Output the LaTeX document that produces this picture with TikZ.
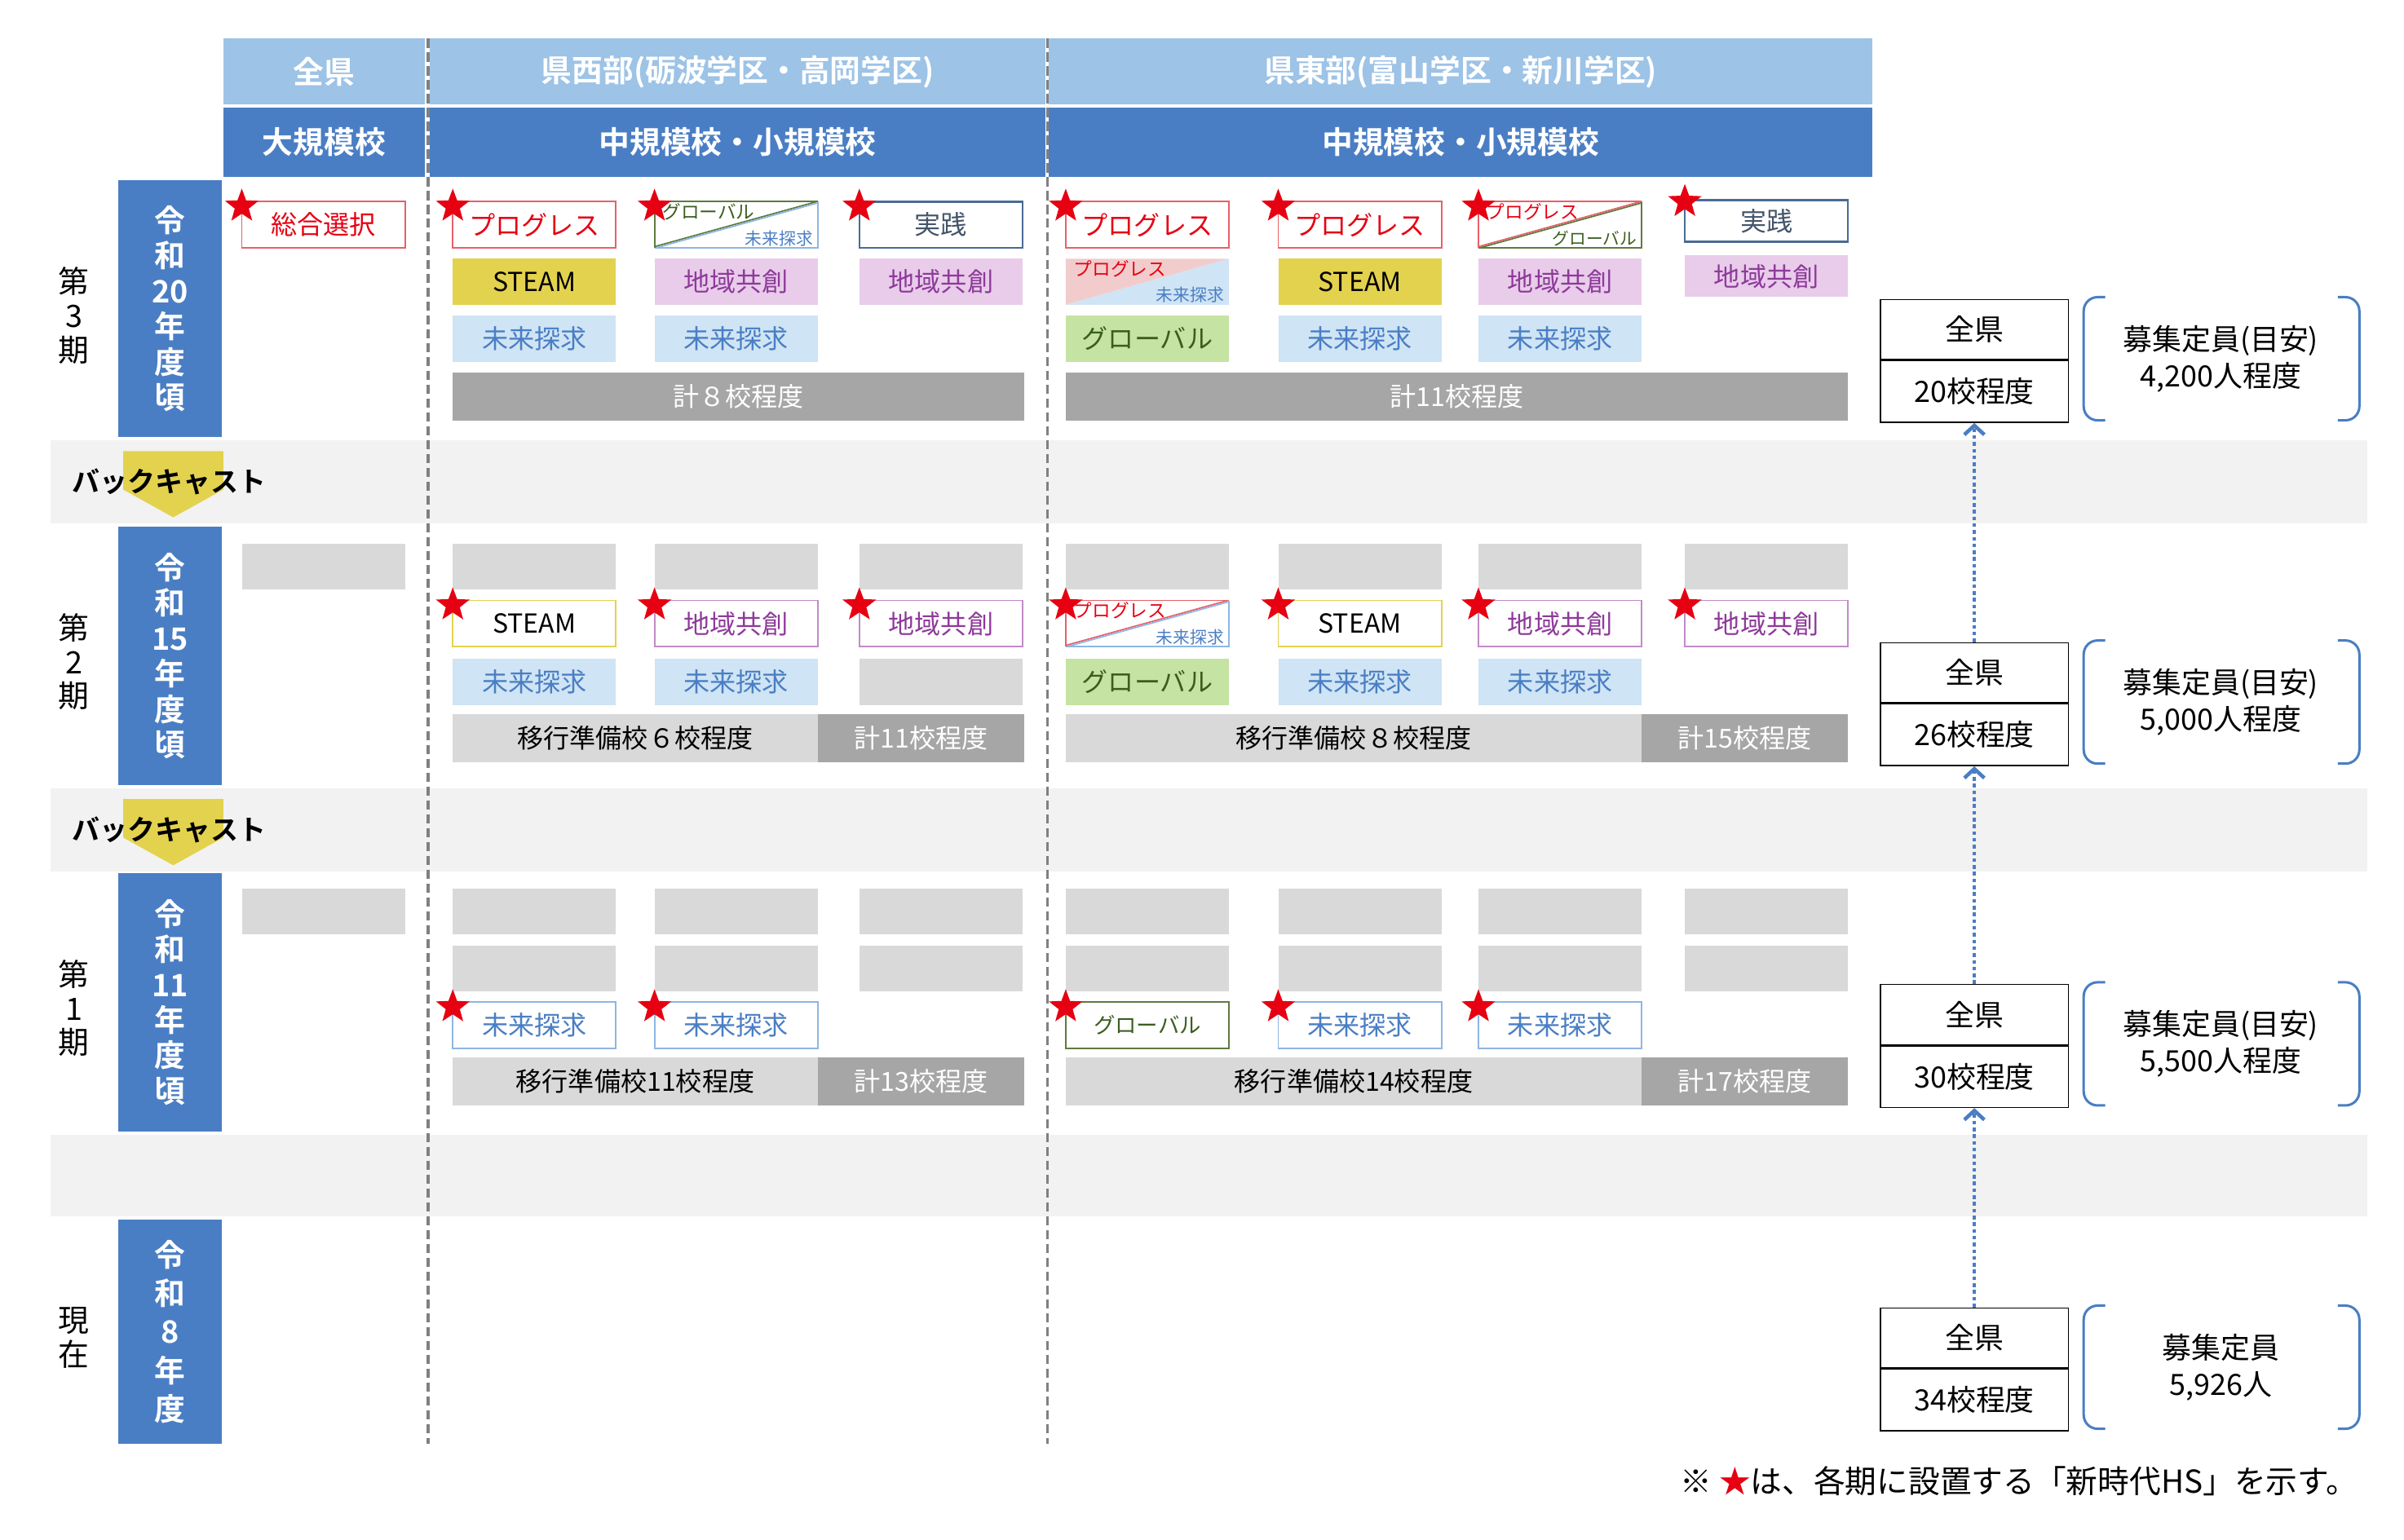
\documentclass[tikz,border=0pt]{standalone}
\usepackage{fontspec}
\setmainfont{Noto Sans CJK JP}[BoldFont={Noto Sans CJK JP Bold}]
\usetikzlibrary{shapes.geometric,arrows.meta}
\definecolor{hdrA}{HTML}{9DC3E6}
\definecolor{hdrB}{HTML}{4A7EC4}
\definecolor{redline}{HTML}{E8606A}
\definecolor{redtext}{HTML}{E60012}
\definecolor{steam}{HTML}{E3D24E}
\definecolor{pinkf}{HTML}{E8CCEA}
\definecolor{purp}{HTML}{8E3A9A}
\definecolor{purpline}{HTML}{C28AC8}
\definecolor{lblue}{HTML}{CFE4F4}
\definecolor{bluetext}{HTML}{4A7EC4}
\definecolor{blueline}{HTML}{8DB6E3}
\definecolor{greenf}{HTML}{C5E3A2}
\definecolor{greentext}{HTML}{3B5E1E}
\definecolor{greenline}{HTML}{5E7A3E}
\definecolor{jisline}{HTML}{4A6B94}
\definecolor{jistext}{HTML}{44546A}
\definecolor{lgray}{HTML}{D9D9D9}
\definecolor{dgray}{HTML}{A6A6A6}
\definecolor{bandc}{HTML}{F2F2F2}
\definecolor{pinkA}{HTML}{F2CCCC}
\newcommand\fs{\fontsize{17}{20}\selectfont}
\tikzset{
 base/.style={minimum width=106pt,minimum height=30pt,inner sep=0pt,font=\fs},
 ored/.style={base,draw=redline,fill=white,text=redtext,line width=1pt},
 fsteam/.style={base,fill=steam,text=black},
 osteam/.style={base,draw=steam,fill=white,text=black,line width=1pt},
 fpink/.style={base,fill=pinkf,text=purp},
 opink/.style={base,draw=purpline,fill=white,text=purp,line width=1pt},
 fblue/.style={base,fill=lblue,text=bluetext},
 oblue/.style={base,draw=blueline,fill=white,text=bluetext,line width=1pt},
 fgreen/.style={base,fill=greenf,text=greentext},
 ogreen/.style={base,draw=greenline,fill=white,text=greentext,line width=1pt},
 ojis/.style={base,draw=jisline,fill=white,text=jistext,line width=1.2pt},
 gbox/.style={base,fill=lgray},
 star5/.style={star,star points=5,star point ratio=2.4,fill=redtext,draw=none,minimum size=23pt,inner sep=0pt},
 bar/.style={fill=#1,minimum height=31pt,inner sep=0pt,font=\fs},
 hdr/.style={fill=#1,inner sep=0pt,text=white,font=\fontsize{20}{22}\selectfont\bfseries},
 per/.style={fill=hdrB,text=white,minimum width=67pt,inner sep=0pt,align=center,font=\fontsize{20}{23}\selectfont\bfseries},
 side/.style={align=center,font=\fontsize{20}{22}\selectfont},
 rbox/.style={draw=black,line width=.8pt,fill=white,minimum width=122pt,inner sep=0pt,font=\fontsize{19}{21}\selectfont},
 brtext/.style={align=center,font=\fontsize{19}{24}\selectfont},
 upar/.style={-{Straight Barb[length=6pt,width=13pt]},draw=hdrB,line width=2.4pt,dotted},
 dashln/.style={draw=gray,line width=1.8pt,dash pattern=on 6pt off 3pt},
}
\newcommand\mybox[5]{\node[#4] (#1) at (#2+53,#3+15) {#5};}
\newcommand\mystar[3]{\node[star5] (#1) at (#2,#3+3) {};}
% name, xl, yt, lineA, textcolA, textA, lineB, textcolB, textB
\newcommand\mysplit[9]{%
 \coordinate (#1) at (#2+53,#3+15);
 \draw[#7,line width=1pt] (#2+106,#3)--(#2+106,#3+30)--(#2,#3+30);
 \draw[#4,line width=1pt] (#2,#3+30)--(#2,#3)--(#2+106,#3);
 \draw[#4,line width=.9pt] (#2,#3+29.2)--(#2+105.2,#3);
 \draw[#7,line width=.9pt] (#2+.8,#3+30)--(#2+106,#3+.8);
 \node[anchor=north west,inner sep=1pt,text=#5,font=\fontsize{12}{13}\selectfont] (#1a) at (#2+4,#3) {#6};
 \node[anchor=south east,inner sep=1pt,text=#8,font=\fontsize{11}{12}\selectfont] (#1b) at (#2+104,#3+30) {#9};}
\newcommand\mysplitf[9]{%
 \coordinate (#1) at (#2+53,#3+15);
 \fill[#4] (#2,#3)--(#2+106,#3)--(#2,#3+30)--cycle;
 \fill[#7] (#2+106,#3)--(#2+106,#3+30)--(#2,#3+30)--cycle;
 \node[anchor=north west,inner sep=1pt,text=#5,font=\fontsize{12}{13}\selectfont] (#1a) at (#2+4,#3) {#6};
 \node[anchor=south east,inner sep=1pt,text=#8,font=\fontsize{11}{12}\selectfont] (#1b) at (#2+104,#3+30) {#9};}
\newcommand\mybrace[3]{% name, ytop, ybottom
 \draw[hdrB,line width=1.6pt,rounded corners=9pt] (1367,#2)--(1353,#2)--(1353,#3)--(1367,#3);
 \draw[hdrB,line width=1.6pt,rounded corners=9pt] (1518,#2)--(1532,#2)--(1532,#3)--(1518,#3);
 \coordinate (#1) at (1442,{(#2+#3)/2});}
\begin{document}
\begin{tikzpicture}[x=1pt,y=-1pt]
\useasboundingbox (0,0) rectangle (1561,1000);
% bands
\fill[bandc] (33,286) rectangle (1537,340);
\fill[bandc] (33,512) rectangle (1537,566);
\fill[bandc] (33,737) rectangle (1537,790);
% headers
\node[hdr=hdrA,minimum width=131pt,minimum height=43pt] (h1a) at (210.5,46.5) {全県};
\node[hdr=hdrA,minimum width=400pt,minimum height=43pt] (h1b) at (479,46.5) {県西部(砺波学区・高岡学区)};
\node[hdr=hdrA,minimum width=535pt,minimum height=43pt] (h1c) at (948.5,46.5) {県東部(富山学区・新川学区)};
\node[hdr=hdrB,minimum width=131pt,minimum height=45pt] (h2a) at (210.5,92.5) {大規模校};
\node[hdr=hdrB,minimum width=400pt,minimum height=45pt] (h2b) at (479,92.5) {中規模校・小規模校};
\node[hdr=hdrB,minimum width=535pt,minimum height=45pt] (h2c) at (948.5,92.5) {中規模校・小規模校};
\draw[dashln] (278,25)--(278,938);
\draw[dashln] (680,25)--(680,938);
% period bars
\node[per,minimum height=167pt] (p3) at (110.5,200.5) {令\\和\\20\\年\\度\\頃};
\node[per,minimum height=168pt] (p2) at (110.5,426) {令\\和\\15\\年\\度\\頃};
\node[per,minimum height=168pt] (p1) at (110.5,651) {令\\和\\11\\年\\度\\頃};
\node[per,minimum height=146pt] (p0) at (110.5,865) {令\\[2pt]和\\[2pt]8\\[2pt]年\\[2pt]度};
\node[side] (s3) at (48,205) {第\\3\\期};
\node[side] (s2) at (48,430) {第\\2\\期};
\node[side] (s1) at (48,655) {第\\1\\期};
\node[side] (s0) at (48,869) {現\\在};
% backcast
\fill[steam] (80,293)--(145,293)--(145,318)--(112.5,336)--(80,318)--cycle;
\node[font=\fontsize{18}{20}\selectfont\bfseries] (bc1) at (110,313) {バックキャスト};
\fill[steam] (80,519)--(145,519)--(145,544)--(112.5,562)--(80,544)--cycle;
\node[font=\fontsize{18}{20}\selectfont\bfseries] (bc2) at (110,539) {バックキャスト};
% ===== period 3
\mybox{z3a}{157}{131}{ored}{総合選択}\mystar{z3s}{157}{131}
\mybox{w13a}{294}{131}{ored}{プログレス}\mystar{w13s}{294}{131}
\mybox{w13b}{294}{168}{fsteam}{STEAM}
\mybox{w13c}{294}{205}{fblue}{未来探求}
\mysplit{w23a}{425}{131}{greenline}{greentext}{グローバル}{blueline}{bluetext}{未来探求}\mystar{w23s}{425}{131}
\mybox{w23b}{425}{168}{fpink}{地域共創}
\mybox{w23c}{425}{205}{fblue}{未来探求}
\mybox{w33a}{558}{131}{ojis}{実践}\mystar{w33s}{558}{131}
\mybox{w33b}{558}{168}{fpink}{地域共創}
\mybox{e13a}{692}{131}{ored}{プログレス}\mystar{e13s}{692}{131}
\mysplitf{e13b}{692}{168}{pinkA}{redtext}{プログレス}{lblue}{bluetext}{未来探求}
\mybox{e13c}{692}{205}{fgreen}{グローバル}
\mybox{e23a}{830}{131}{ored}{プログレス}\mystar{e23s}{830}{131}
\mybox{e23b}{830}{168}{fsteam}{STEAM}
\mybox{e23c}{830}{205}{fblue}{未来探求}
\mysplit{e33a}{960}{131}{redline}{redtext}{プログレス}{greenline}{greentext}{グローバル}\mystar{e33s}{960}{131}
\mybox{e33b}{960}{168}{fpink}{地域共創}
\mybox{e33c}{960}{205}{fblue}{未来探求}
\node[ojis,minimum height=27pt] (e43a) at (1147,143.5) {実践};\mystar{e43s}{1094}{128}
\node[fpink,minimum height=27pt] (e43b) at (1147,179.5) {地域共創};
\node[bar=dgray,minimum width=371pt,text=white] (b3w) at (479.5,257.5) {計８校程度};
\node[bar=dgray,minimum width=508pt,text=white] (b3e) at (946,257.5) {計11校程度};
% ===== period 2
\mybox{z2a}{157}{353}{gbox}{}
\mybox{w12g}{294}{353}{gbox}{}
\mybox{w12a}{294}{390}{osteam}{STEAM}\mystar{w12s}{294}{390}
\mybox{w12c}{294}{428}{fblue}{未来探求}
\mybox{w22g}{425}{353}{gbox}{}
\mybox{w22a}{425}{390}{opink}{地域共創}\mystar{w22s}{425}{390}
\mybox{w22c}{425}{428}{fblue}{未来探求}
\mybox{w32g}{558}{353}{gbox}{}
\mybox{w32a}{558}{390}{opink}{地域共創}\mystar{w32s}{558}{390}
\mybox{w32c}{558}{428}{gbox}{}
\mybox{e12g}{692}{353}{gbox}{}
\mysplit{e12a}{692}{390}{redline}{redtext}{プログレス}{blueline}{bluetext}{未来探求}\mystar{e12s}{692}{390}
\mybox{e12c}{692}{428}{fgreen}{グローバル}
\mybox{e22g}{830}{353}{gbox}{}
\mybox{e22a}{830}{390}{osteam}{STEAM}\mystar{e22s}{830}{390}
\mybox{e22c}{830}{428}{fblue}{未来探求}
\mybox{e32g}{960}{353}{gbox}{}
\mybox{e32a}{960}{390}{opink}{地域共創}\mystar{e32s}{960}{390}
\mybox{e32c}{960}{428}{fblue}{未来探求}
\mybox{e42g}{1094}{353}{gbox}{}
\mybox{e42a}{1094}{390}{opink}{地域共創}\mystar{e42s}{1094}{390}
\node[bar=lgray,minimum width=237pt] (b2w) at (412.5,479.5) {移行準備校６校程度};
\node[bar=dgray,minimum width=134pt,text=white] (b2wt) at (598,479.5) {計11校程度};
\node[bar=lgray,minimum width=374pt] (b2e) at (879,479.5) {移行準備校８校程度};
\node[bar=dgray,minimum width=134pt,text=white] (b2et) at (1133,479.5) {計15校程度};
% ===== period 1
\mybox{z1a}{157}{577}{gbox}{}
\mybox{w11g}{294}{577}{gbox}{}\mybox{w11h}{294}{614}{gbox}{}
\mybox{w11a}{294}{651}{oblue}{未来探求}\mystar{w11s}{294}{651}
\mybox{w21g}{425}{577}{gbox}{}\mybox{w21h}{425}{614}{gbox}{}
\mybox{w21a}{425}{651}{oblue}{未来探求}\mystar{w21s}{425}{651}
\mybox{w31g}{558}{577}{gbox}{}\mybox{w31h}{558}{614}{gbox}{}
\mybox{e11g}{692}{577}{gbox}{}\mybox{e11h}{692}{614}{gbox}{}
\mybox{e11a}{692}{651}{ogreen}{\fontsize{14}{16}\selectfont グローバル}\mystar{e11s}{692}{651}
\mybox{e21g}{830}{577}{gbox}{}\mybox{e21h}{830}{614}{gbox}{}
\mybox{e21a}{830}{651}{oblue}{未来探求}\mystar{e21s}{830}{651}
\mybox{e31g}{960}{577}{gbox}{}\mybox{e31h}{960}{614}{gbox}{}
\mybox{e31a}{960}{651}{oblue}{未来探求}\mystar{e31s}{960}{651}
\mybox{e41g}{1094}{577}{gbox}{}\mybox{e41h}{1094}{614}{gbox}{}
\node[bar=lgray,minimum width=237pt] (b1w) at (412.5,702.5) {移行準備校11校程度};
\node[bar=dgray,minimum width=134pt,text=white] (b1wt) at (598,702.5) {計13校程度};
\node[bar=lgray,minimum width=374pt] (b1e) at (879,702.5) {移行準備校14校程度};
\node[bar=dgray,minimum width=134pt,text=white] (b1et) at (1133,702.5) {計17校程度};
% ===== right column
\node[rbox,minimum height=39pt] (r3a) at (1282,214) {全県};
\node[rbox,minimum height=40pt,anchor=north] (r3b) at (r3a.south) {20校程度};
\node[rbox,minimum height=39pt] (r2a) at (1282,437) {全県};
\node[rbox,minimum height=40pt,anchor=north] (r2b) at (r2a.south) {26校程度};
\node[rbox,minimum height=39pt] (r1a) at (1282,659) {全県};
\node[rbox,minimum height=40pt,anchor=north] (r1b) at (r1a.south) {30校程度};
\node[rbox,minimum height=39pt] (r0a) at (1282,869) {全県};
\node[rbox,minimum height=40pt,anchor=north] (r0b) at (r0a.south) {34校程度};
\draw[upar] (r0a.north) -- (r1b.south);
\draw[upar] (r1a.north) -- (r2b.south);
\draw[upar] (r2a.north) -- (r3b.south);
\mybrace{br3}{193}{273}\node[brtext] (t3) at (br3) {募集定員(目安)\\4,200人程度};
\mybrace{br2}{416}{496}\node[brtext] (t2) at (br2) {募集定員(目安)\\5,000人程度};
\mybrace{br1}{638}{718}\node[brtext] (t1) at (br1) {募集定員(目安)\\5,500人程度};
\mybrace{br0}{848}{928}\node[brtext] (t0) at (br0) {募集定員\\5,926人};
% footer
\node[anchor=east,font=\fontsize{20.5}{23}\selectfont,inner sep=0pt] (foot) at (1531,962) {※ \textcolor{redtext}{★}は、各期に設置する「新時代HS」を示す。};
\end{tikzpicture}
\end{document}
